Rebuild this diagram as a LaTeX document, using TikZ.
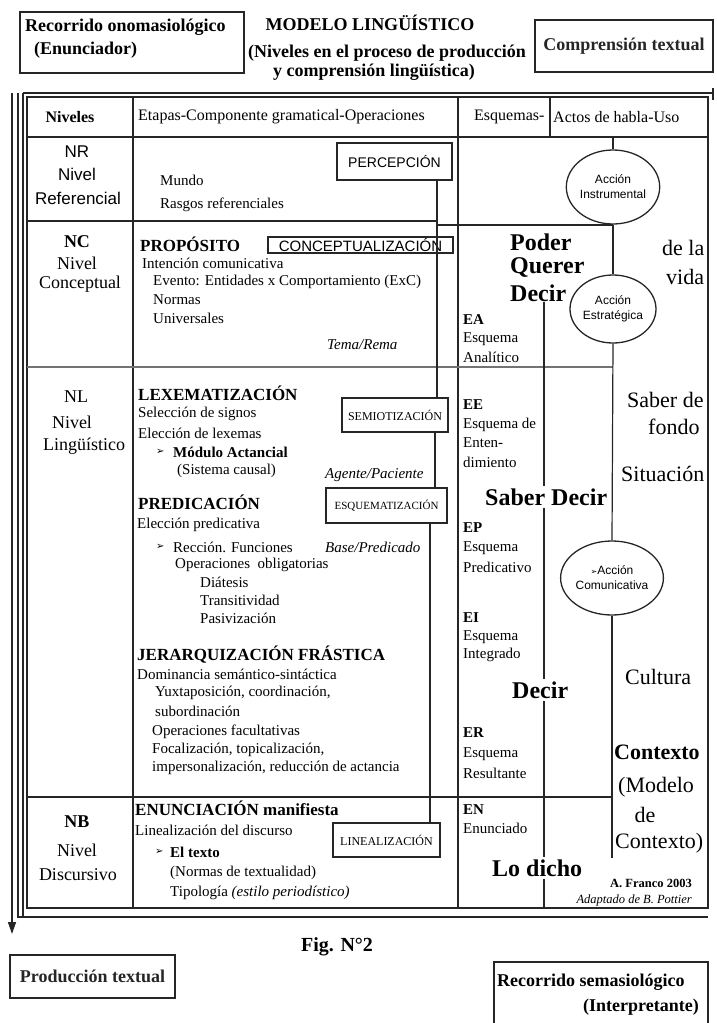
\documentclass[tikz,border=0pt]{standalone}
\usepackage{fontspec}
\setmainfont{Liberation Serif}
\newfontfamily\arialf{Liberation Sans}
\newfontfamily\dejavuf{DejaVu Sans}
\usetikzlibrary{shapes.geometric,arrows.meta}
\newcommand{\myfs}[1]{\fontsize{#1}{#1}\selectfont}
\newcommand{\blt}{{\dejavuf\fontsize{10}{10}\selectfont ➢}}
\begin{document}
\begin{tikzpicture}[x=1pt,y=-1pt,
  tline/.style={line width=1.2pt,black!85},
  body/.style={anchor=west,inner sep=0pt,font=\myfs{15}},
  bodyb/.style={anchor=west,inner sep=0pt,font=\myfs{15}\bfseries},
  bodyi/.style={anchor=west,inner sep=0pt,font=\myfs{15}\itshape},
  head/.style={anchor=west,inner sep=0pt,font=\myfs{17}\bfseries},
  lvl/.style={inner sep=0pt,font=\myfs{18}},
  lvls/.style={inner sep=0pt,font=\arialf\myfs{17}},
  big/.style={anchor=west,inner sep=2pt,font=\myfs{24}\bfseries},
  ctx/.style={anchor=west,inner sep=0pt,font=\myfs{22}},
  topt/.style={inner sep=0pt,font=\myfs{18}\bfseries},
  topbox/.style={draw,line width=1.8pt,black!85,inner sep=0pt},
  opbox/.style={draw,line width=1.2pt,black!85,inner sep=0pt,text=black},
  actcirc/.style={draw,ellipse,line width=1.3pt,black!85,text=black,inner sep=0pt,align=center,font=\arialf\fontsize{12}{15}\selectfont}
]
\useasboundingbox (0,0) rectangle (716,1023);

% ---------- top ----------
\node[topbox,minimum width=224pt,minimum height=61pt] (rec1) at (132,42.5) {};
\node[topt,anchor=west] (rec1a) at (25,27) {Recorrido onomasiológico};
\node[topt,anchor=west] (rec1b) at (34,50) {(Enunciador)};
\node[topt] (tit1) at (370,23) {MODELO LINGÜÍSTICO};
\node[topt] (tit2) at (387,53) {(Niveles en el proceso de producción};
\node[topt] (tit3) at (374,72) {y comprensión lingüística)};
\node[topbox,minimum width=178pt,minimum height=52pt,font=\myfs{18}\bfseries] (comp) at (624,46) {Comprensión textual};

% ---------- frames ----------
\coordinate (arrtop) at (12,93);
\coordinate (arrtip) at (12,934);
\draw[line width=1.5pt,black!85,-{Triangle[width=8pt,length=12pt]}] (arrtop) -- (arrtip);
\draw[tline] (18,93) -- (18,917) -- (708,917);
\draw[tline] (23,93) -- (23,917);
\draw[tline] (23,93) -- (713,93);
\draw[tline] (713,88) -- (713,100);
\draw[tline] (27,97) rectangle (708,908);

% table grid
\draw[tline] (27,137) -- (708,137);
\draw[tline] (133,97) -- (133,908);
\draw[tline] (458,97) -- (458,908);
\draw[tline] (550,97) -- (550,137);
\draw[tline] (27,221) -- (437,221);
\draw[line width=1.5pt,black!55] (27,367) -- (613,367);
\draw[tline] (27,797) -- (613,797);

% ---------- header ----------
\node[inner sep=0pt,font=\myfs{16}\bfseries] (hniv) at (70,117) {Niveles};
\node[body,font=\myfs{16}] (hetap) at (138,117) {Etapas-Componente gramatical-Operaciones};
\node[body,font=\myfs{16}] (hesq) at (474,117) {Esquemas-};
\node[body,font=\myfs{16}] (hact) at (553,117) {Actos de habla-Uso};

% ---------- level labels ----------
\node[lvls] (nr1) at (77,152) {NR};
\node[lvls] (nr2) at (77,174) {Nivel};
\node[lvls] (nr3) at (78,198) {Referencial};
\node[lvl,font=\myfs{18}\bfseries] (nc1) at (77,242) {NC};
\node[lvl] (nc2) at (77,263) {Nivel};
\node[lvl] (nc3) at (80,284) {Conceptual};
\node[lvl] (nl1) at (76,397) {NL};
\node[lvl] (nl2) at (72,422) {Nivel};
\node[lvl] (nl3) at (84,446) {Lingüístico};
\node[lvl,font=\myfs{18}\bfseries] (nb1) at (77,822) {NB};
\node[lvl] (nb2) at (77,850) {Nivel};
\node[lvl] (nb3) at (78,875) {Discursivo};

% ---------- middle column ----------
\node[body] (mundo) at (160,180) {Mundo};
\node[body] (rasgos) at (160,205) {Rasgos referenciales};
\node[head] (prop) at (140,244) {PROPÓSITO};
\node[body] (inten) at (142,263) {Intención comunicativa};
\node[body] (evento) at (153,282) {Evento: Entidades x Comportamiento (ExC)};
\node[body] (normas) at (153,300) {Normas};
\node[body] (univ) at (153,318) {Universales};
\node[bodyi] (tema) at (327,345) {Tema/Rema};

\node[head] (lexe) at (138,393) {LEXEMATIZACIÓN};
\node[body] (selec) at (138,414) {Selección de signos};
\node[body] (elec) at (138,433) {Elección de lexemas};
\node[body] (modb) at (156,452) {\blt};
\node[bodyb] (modulo) at (173,452) {Módulo Actancial};
\node[body] (sist) at (177,471) {(Sistema causal)};
\node[bodyi] (agente) at (325,475) {Agente/Paciente};

\node[head] (pred) at (138,502) {PREDICACIÓN};
\node[body] (elecp) at (137,525) {Elección predicativa};
\node[body] (recb) at (156,547) {\blt};
\node[body] (reccion) at (173,547) {Rección. Funciones};
\node[bodyi] (base) at (325,547) {Base/Predicado};
\node[body] (opob) at (175,565) {Operaciones\ \ obligatorias};
\node[body] (diat) at (200,582) {Diátesis};
\node[body] (trans) at (200,600) {Transitividad};
\node[body] (pasiv) at (200,618) {Pasivización};

\node[head] (jer) at (137,655) {JERARQUIZACIÓN FRÁSTICA};
\node[body] (domin) at (137,674) {Dominancia semántico-sintáctica};
\node[body] (yuxt) at (155,693) {Yuxtaposición, coordinación,};
\node[body] (subor) at (155,711) {subordinación};
\node[body] (opfac) at (152,732) {Operaciones facultativas};
\node[body] (focal) at (152,750) {Focalización, topicalización,};
\node[body] (imper) at (152,768) {impersonalización, reducción de actancia};

\node[anchor=west,inner sep=0pt,font=\myfs{17}\bfseries] (enun) at (135,808) {ENUNCIACIÓN manifiesta};
\node[body] (lineal) at (135,830) {Linealización del discurso};
\node[body] (textb) at (155,852) {\blt};
\node[bodyb] (texto) at (170,852) {El texto};
\node[body] (normt) at (170,873) {(Normas de textualidad)};
\node[body] (tipo) at (170,893) {Tipología \textit{(estilo periodístico)}};

% ---------- operation boxes ----------
\node[opbox,minimum width=115pt,minimum height=37pt,font=\arialf\myfs{14}] (perc) at (394.5,161.5) {PERCEPCIÓN};
\node[opbox,line width=2pt,minimum width=185pt,minimum height=16pt,font=\arialf\myfs{15}] (conc) at (360.5,245) {CONCEPTUALIZACIÓN};
\node[opbox,minimum width=106pt,minimum height=34pt,font=\myfs{12}] (semi) at (395,415) {SEMIOTIZACIÓN};
\node[opbox,minimum width=121pt,minimum height=35pt,font=\myfs{11}] (esq) at (386.5,505.5) {ESQUEMATIZACIÓN};
\node[opbox,minimum width=107pt,minimum height=34pt,font=\myfs{12}] (lin) at (386.5,840) {LINEALIZACIÓN};

% ---------- circles ----------
\node[actcirc,minimum width=84pt,minimum height=74pt] (c1) at (613,187) {Acción\\Instrumental};
\node[actcirc,minimum width=86pt,minimum height=68pt] (c2) at (613,309) {Acción\\Estratégica};
\node[actcirc,minimum width=86pt,minimum height=74pt] (c3) at (612,578) {{\dejavuf\fontsize{8}{8}\selectfont ➢}Acción\\Comunicativa};

% ---------- connectors ----------
\coordinate (jx) at (437,225);
\coordinate (x435) at (435,0);
\coordinate (x430) at (430,0);
\coordinate (c1top) at (613,137);
\coordinate (ctxend) at (612,858);
\draw[tline] (perc.south -| jx) -- (semi.north -| jx);
\draw[tline] (jx) -- (jx -| c1.south);
\draw[tline] (semi.south -| x435) -- (esq.north -| x435);
\draw[tline] (esq.south -| x430) -- (lin.north -| x430);
\draw[tline] (c1.north) -- (c1top);
\draw[tline] (c1.south) -- (c2.north);
\draw[tline] (c2.south) -- (c3.north);
\draw[tline] (c3.south) -- (ctxend);

% ---------- schema column ----------
\node[bodyb] (ea) at (463,320) {EA};
\node[body] (ea2) at (463,339) {Esquema};
\node[body] (ea3) at (463,357) {Analítico};
\node[bodyb] (ee) at (463,405) {EE};
\node[body] (ee2) at (463,425) {Esquema de};
\node[body] (ee3) at (463,443) {Enten-};
\node[body] (ee4) at (463,462) {dimiento};
\node[bodyb] (ep) at (463,528) {EP};
\node[body] (ep2) at (463,548) {Esquema};
\node[body] (ep3) at (463,567) {Predicativo};
\node[bodyb] (ei) at (463,618) {EI};
\node[body] (ei2) at (463,637) {Esquema};
\node[body] (ei3) at (463,655) {Integrado};
\node[bodyb] (er) at (463,733) {ER};
\node[body] (er2) at (463,754) {Esquema};
\node[body] (er3) at (463,773) {Resultante};
\node[bodyb] (en) at (463,810) {EN};
\node[body] (en2) at (463,828) {Enunciado};

% ---------- big words ----------
\node[big,inner sep=0pt] (poder) at (510,242) {Poder};
\node[big,inner sep=0pt] (querer) at (510,267) {Querer};
\node[big,inner sep=0pt] (decir1) at (510,293) {Decir};
\node[big] (sd) at (483,497) {Saber Decir};
\node[big] (decir2) at (510,690) {Decir};
\node[big] (lod) at (490,868) {Lo dicho};
\coordinate (dtop) at (544,302);
\coordinate (dbot) at (544,908);
\draw[tline] (dtop) -- (dtop |- sd.north);
\draw[tline] (dtop |- sd.south) -- (dtop |- decir2.north);
\draw[tline] (dtop |- decir2.south) -- (dtop |- lod.north);
\draw[tline] (dtop |- lod.south) -- (dbot);

% ---------- context column ----------
\node[ctx] (dela) at (662,248) {de la};
\node[ctx] (vida) at (666,277) {vida};
\node[ctx] (saber) at (627,400) {Saber de};
\node[ctx] (fondo) at (648,427) {fondo};
\node[ctx] (situ) at (621,474) {Situación};
\node[ctx] (cult) at (625,677) {Cultura};
\node[ctx,font=\myfs{22}\bfseries] (contx) at (614,752) {Contexto};
\node[ctx] (model) at (618,787) {(Modelo};
\node[ctx,anchor=center] (mde) at (645,815) {de};
\node[ctx] (contx2) at (615,843) {Contexto)};
\node[anchor=east,inner sep=0pt,font=\myfs{12.5}\bfseries] (franco) at (692,883) {A. Franco 2003};
\node[anchor=east,inner sep=0pt,font=\myfs{12.5}\itshape] (adapt) at (692,900) {Adaptado de B. Pottier};

% ---------- bottom ----------
\node[inner sep=0pt,font=\myfs{20}\bfseries] (fig) at (337,947) {Fig. N°2};
\node[topbox,minimum width=165pt,minimum height=43pt,font=\myfs{18}\bfseries] (prod) at (92.5,976.5) {Producción textual};
\draw[line width=1.8pt,black!85] (494,1030) -- (494,962) -- (708,962) -- (708,1030);
\node[topt,anchor=west] (rs1) at (497,982) {Recorrido semasiológico};
\node[topt,anchor=east] (rs2) at (699,1007) {(Interpretante)};
\end{tikzpicture}
\end{document}
